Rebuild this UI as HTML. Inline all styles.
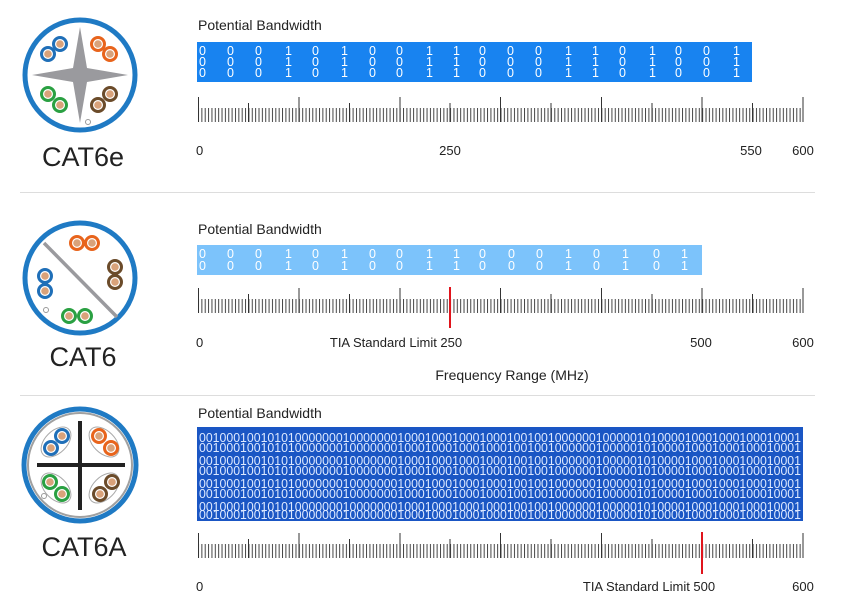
<!DOCTYPE html>
<html><head><meta charset="utf-8"><style>
html,body{margin:0;padding:0;background:#fff;}
body{width:853px;height:615px;position:relative;overflow:hidden;font-family:"Liberation Sans",sans-serif;}
svg{position:absolute;left:0;top:0;}
.t{font-family:"Liberation Sans",sans-serif;fill:#222;}
</style></head><body>
<svg width="853" height="615" viewBox="0 0 853 615">
<defs>
<pattern id="mt" x="198" y="0" width="3.3611" height="10" patternUnits="userSpaceOnUse">
<rect x="0" y="0" width="1" height="10" fill="#444"/>
</pattern>
<g id="ruler">
<rect x="198" y="11" width="605.5" height="14" fill="url(#mt)"/>
<g stroke="#333" stroke-width="1">
<line x1="198.5" y1="0" x2="198.5" y2="25"/><line x1="299" y1="0" x2="299" y2="25"/><line x1="400" y1="0" x2="400" y2="25"/><line x1="500.5" y1="0" x2="500.5" y2="25"/><line x1="601.5" y1="0" x2="601.5" y2="25"/><line x1="702" y1="0" x2="702" y2="25"/><line x1="803" y1="0" x2="803" y2="25"/>
<line x1="248.5" y1="6" x2="248.5" y2="25"/><line x1="349.5" y1="6" x2="349.5" y2="25"/><line x1="450" y1="6" x2="450" y2="25"/><line x1="551" y1="6" x2="551" y2="25"/><line x1="652" y1="6" x2="652" y2="25"/><line x1="752.5" y1="6" x2="752.5" y2="25"/>
</g>
</g>
<g id="pair"><circle r="6.5" fill="#fff" stroke="currentColor" stroke-width="3"/><circle r="3.8" fill="#d9a27a"/></g>
</defs>

<line x1="20" y1="192.5" x2="815" y2="192.5" stroke="#ddd"/>
<line x1="20" y1="395.5" x2="815" y2="395.5" stroke="#ddd"/>

<!-- ===== CAT6e ===== -->
<circle cx="80" cy="75" r="55" fill="#fff" stroke="#1f7ac4" stroke-width="5"/>
<path d="M80 27 L87 68 L128 75 L87 82 L80 123 L73 82 L32 75 L73 68 Z" fill="#9a9a9e"/>
<g style="color:#1f6fb8"><use href="#pair" x="60" y="44"/><use href="#pair" x="48" y="54"/></g>
<g style="color:#e8641c"><use href="#pair" x="98" y="44"/><use href="#pair" x="110" y="54"/></g>
<g style="color:#2aa042"><use href="#pair" x="48" y="94"/><use href="#pair" x="60" y="105"/></g>
<g style="color:#6b4b2a"><use href="#pair" x="110" y="94"/><use href="#pair" x="98" y="105"/></g>
<circle cx="88" cy="122" r="2.5" fill="#fff" stroke="#999" stroke-width="1"/>
<text class="t" x="83" y="166" font-size="27" text-anchor="middle">CAT6e</text>

<text class="t" x="198" y="30" font-size="14">Potential Bandwidth</text>
<rect x="197" y="42" width="555" height="40" fill="#1883f0"/>
<g font-size="12.5" fill="#fff" font-family="Liberation Sans,sans-serif">
<text y="55"><tspan x="199">0</tspan><tspan x="227">0</tspan><tspan x="255">0</tspan><tspan x="285">1</tspan><tspan x="312">0</tspan><tspan x="341">1</tspan><tspan x="369">0</tspan><tspan x="396">0</tspan><tspan x="426">1</tspan><tspan x="453">1</tspan><tspan x="479">0</tspan><tspan x="507">0</tspan><tspan x="535">0</tspan><tspan x="565">1</tspan><tspan x="592">1</tspan><tspan x="619">0</tspan><tspan x="649">1</tspan><tspan x="675">0</tspan><tspan x="703">0</tspan><tspan x="733">1</tspan></text>
<text y="66"><tspan x="199">0</tspan><tspan x="227">0</tspan><tspan x="255">0</tspan><tspan x="285">1</tspan><tspan x="312">0</tspan><tspan x="341">1</tspan><tspan x="369">0</tspan><tspan x="396">0</tspan><tspan x="426">1</tspan><tspan x="453">1</tspan><tspan x="479">0</tspan><tspan x="507">0</tspan><tspan x="535">0</tspan><tspan x="565">1</tspan><tspan x="592">1</tspan><tspan x="619">0</tspan><tspan x="649">1</tspan><tspan x="675">0</tspan><tspan x="703">0</tspan><tspan x="733">1</tspan></text>
<text y="77"><tspan x="199">0</tspan><tspan x="227">0</tspan><tspan x="255">0</tspan><tspan x="285">1</tspan><tspan x="312">0</tspan><tspan x="341">1</tspan><tspan x="369">0</tspan><tspan x="396">0</tspan><tspan x="426">1</tspan><tspan x="453">1</tspan><tspan x="479">0</tspan><tspan x="507">0</tspan><tspan x="535">0</tspan><tspan x="565">1</tspan><tspan x="592">1</tspan><tspan x="619">0</tspan><tspan x="649">1</tspan><tspan x="675">0</tspan><tspan x="703">0</tspan><tspan x="733">1</tspan></text>
</g>
<use href="#ruler" y="97"/>
<g class="t" font-size="13">
<text x="196" y="155">0</text><text x="450" y="155" text-anchor="middle">250</text><text x="751" y="155" text-anchor="middle">550</text><text x="803" y="155" text-anchor="middle">600</text>
</g>

<!-- ===== CAT6 ===== -->
<circle cx="80" cy="278" r="55" fill="#fff" stroke="#1f7ac4" stroke-width="5"/>
<line x1="44" y1="243" x2="117" y2="317" stroke="#9a9a9e" stroke-width="3.5"/>
<g style="color:#e8641c"><use href="#pair" x="77" y="243"/><use href="#pair" x="92" y="243"/></g>
<g style="color:#6b4b2a"><use href="#pair" x="115" y="267"/><use href="#pair" x="115" y="282"/></g>
<g style="color:#1f6fb8"><use href="#pair" x="45" y="276"/><use href="#pair" x="45" y="291"/></g>
<g style="color:#2aa042"><use href="#pair" x="69" y="316"/><use href="#pair" x="85" y="316"/></g>
<circle cx="46" cy="310" r="2.5" fill="#fff" stroke="#999" stroke-width="1"/>
<text class="t" x="83" y="366" font-size="27" text-anchor="middle">CAT6</text>

<text class="t" x="198" y="234" font-size="14">Potential Bandwidth</text>
<rect x="197" y="245" width="505" height="30" fill="#7cc3fb"/>
<g font-size="12.5" fill="#fff" font-family="Liberation Sans,sans-serif">
<text y="258"><tspan x="199">0</tspan><tspan x="227">0</tspan><tspan x="255">0</tspan><tspan x="285">1</tspan><tspan x="312">0</tspan><tspan x="341">1</tspan><tspan x="369">0</tspan><tspan x="396">0</tspan><tspan x="426">1</tspan><tspan x="453">1</tspan><tspan x="479">0</tspan><tspan x="508">0</tspan><tspan x="536">0</tspan><tspan x="565">1</tspan><tspan x="593">0</tspan><tspan x="622">1</tspan><tspan x="653">0</tspan><tspan x="681">1</tspan></text>
<text y="270"><tspan x="199">0</tspan><tspan x="227">0</tspan><tspan x="255">0</tspan><tspan x="285">1</tspan><tspan x="312">0</tspan><tspan x="341">1</tspan><tspan x="369">0</tspan><tspan x="396">0</tspan><tspan x="426">1</tspan><tspan x="453">1</tspan><tspan x="479">0</tspan><tspan x="508">0</tspan><tspan x="536">0</tspan><tspan x="565">1</tspan><tspan x="593">0</tspan><tspan x="622">1</tspan><tspan x="653">0</tspan><tspan x="681">1</tspan></text>
</g>
<use href="#ruler" y="288"/>
<line x1="450" y1="287" x2="450" y2="328" stroke="#e0141c" stroke-width="2"/>
<g class="t" font-size="13">
<text x="196" y="347">0</text><text x="396" y="347" text-anchor="middle">TIA Standard Limit 250</text><text x="701" y="347" text-anchor="middle">500</text><text x="803" y="347" text-anchor="middle">600</text>
<text x="512" y="380" text-anchor="middle" font-size="14">Frequency Range (MHz)</text>
</g>

<!-- ===== CAT6A ===== -->
<circle cx="80" cy="465" r="56" fill="#fff" stroke="#1f7ac4" stroke-width="5"/>
<circle cx="80" cy="465" r="52" fill="none" stroke="#a0a0a0" stroke-width="2"/>
<line x1="80" y1="421" x2="80" y2="510" stroke="#222" stroke-width="4"/>
<line x1="37" y1="465" x2="125" y2="465" stroke="#222" stroke-width="4"/>
<g fill="none" stroke="#aaa" stroke-width="1">
<ellipse cx="56" cy="442" rx="11" ry="18" transform="rotate(45 56 442)"/>
<ellipse cx="104" cy="442" rx="11" ry="18" transform="rotate(-45 104 442)"/>
<ellipse cx="56" cy="488" rx="11" ry="18" transform="rotate(-45 56 488)"/>
<ellipse cx="104" cy="488" rx="11" ry="18" transform="rotate(45 104 488)"/>
</g>
<g style="color:#1f6fb8"><use href="#pair" x="62" y="436"/><use href="#pair" x="51" y="448"/></g>
<g style="color:#e8641c"><use href="#pair" x="99" y="436"/><use href="#pair" x="111" y="448"/></g>
<g style="color:#2aa042"><use href="#pair" x="50" y="482"/><use href="#pair" x="62" y="494"/></g>
<g style="color:#6b4b2a"><use href="#pair" x="112" y="482"/><use href="#pair" x="100" y="494"/></g>
<circle cx="44" cy="496" r="2.5" fill="#fff" stroke="#999" stroke-width="1"/>
<text class="t" x="84" y="556" font-size="27" text-anchor="middle">CAT6A</text>

<text class="t" x="198" y="418" font-size="14">Potential Bandwidth</text>
<rect x="197" y="427" width="606" height="94" fill="#1a56c4"/>
<g font-size="12.5" fill="#dce8ff" font-family="Liberation Sans,sans-serif">
<text x="199" y="442" textLength="602" lengthAdjust="spacingAndGlyphs">0010001001010100000001000000010001000100010001001001000000100000101000010001000100010001</text>
<text x="199" y="452" textLength="602" lengthAdjust="spacingAndGlyphs">0010001001010100000001000000010001000100010001001001000000100000101000010001000100010001</text>
<text x="199" y="465" textLength="602" lengthAdjust="spacingAndGlyphs">0010001001010100000001000000010001000100010001001001000000100000101000010001000100010001</text>
<text x="199" y="475" textLength="602" lengthAdjust="spacingAndGlyphs">0010001001010100000001000000010001000100010001001001000000100000101000010001000100010001</text>
<text x="199" y="488" textLength="602" lengthAdjust="spacingAndGlyphs">0010001001010100000001000000010001000100010001001001000000100000101000010001000100010001</text>
<text x="199" y="498" textLength="602" lengthAdjust="spacingAndGlyphs">0010001001010100000001000000010001000100010001001001000000100000101000010001000100010001</text>
<text x="199" y="511" textLength="602" lengthAdjust="spacingAndGlyphs">0010001001010100000001000000010001000100010001001001000000100000101000010001000100010001</text>
<text x="199" y="519" textLength="602" lengthAdjust="spacingAndGlyphs">0010001001010100000001000000010001000100010001001001000000100000101000010001000100010001</text>
</g>
<use href="#ruler" y="533"/>
<line x1="702" y1="532" x2="702" y2="574" stroke="#e0141c" stroke-width="2"/>
<g class="t" font-size="13">
<text x="196" y="591">0</text><text x="649" y="591" text-anchor="middle">TIA Standard Limit 500</text><text x="803" y="591" text-anchor="middle">600</text>
</g>
</svg>
</body></html>
